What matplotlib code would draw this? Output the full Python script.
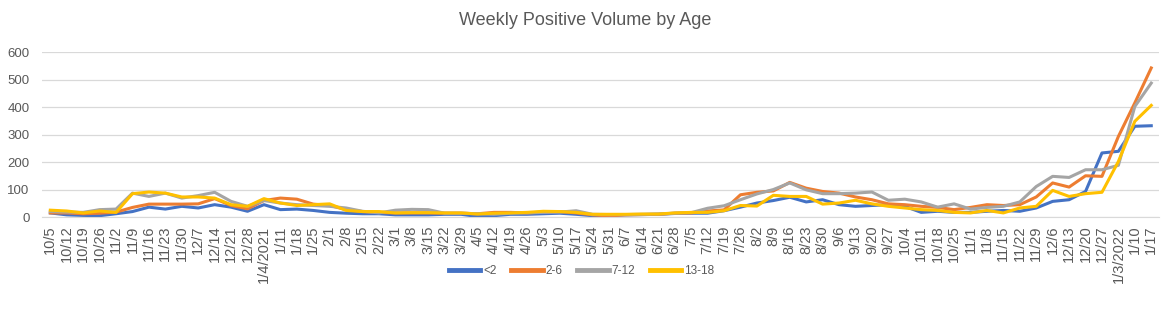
"""Weekly positive volume by age group (Excel-style line chart)."""
import matplotlib.pyplot as plt

weeks = [
    "10/5", "10/12", "10/19", "10/26", "11/2", "11/9", "11/16", "11/23", "11/30",
    "12/7", "12/14", "12/21", "12/28", "1/4/2021", "1/11", "1/18", "1/25", "2/1",
    "2/8", "2/15", "2/22", "3/1", "3/8", "3/15", "3/22", "3/29", "4/5", "4/12",
    "4/19", "4/26", "5/3", "5/10", "5/17", "5/24", "5/31", "6/7", "6/14", "6/21",
    "6/28", "7/5", "7/12", "7/19", "7/26", "8/2", "8/9", "8/16", "8/23", "8/30",
    "9/6", "9/13", "9/20", "9/27", "10/4", "10/11", "10/18", "10/25", "11/1",
    "11/8", "11/15", "11/22", "11/29", "12/6", "12/13", "12/20", "12/27",
    "1/3/2022", "1/10", "1/17",
]

under_2 = [15, 8, 6, 5, 12, 20, 36, 29, 39, 33, 45, 36, 21, 45, 27, 29, 24, 17,
           14, 12, 12, 8, 8, 8, 10, 10, 2, 5, 10, 10, 12, 14, 10, 5, 6, 8, 9, 10,
           13, 14, 14, 23, 36, 51, 60, 72, 55, 63, 45, 39, 42, 45, 39, 17, 21, 17,
           17, 21, 24, 21, 33, 57, 63, 93, 233, 239, 330, 332]
age_2_6 = [15, 15, 12, 14, 18, 35, 47, 47, 47, 48, 67, 42, 30, 60, 69, 65, 47, 42,
           27, 20, 17, 15, 15, 15, 14, 14, 12, 17, 17, 15, 18, 20, 15, 8, 4, 8, 9,
           10, 14, 15, 22, 26, 81, 90, 95, 126, 105, 93, 87, 73, 63, 48, 45, 39,
           35, 27, 35, 45, 42, 45, 73, 124, 109, 150, 148, 293, 415, 542]
age_7_12 = [20, 18, 17, 27, 29, 87, 75, 87, 69, 78, 90, 57, 39, 60, 51, 45, 42, 39,
            33, 21, 15, 25, 28, 27, 14, 14, 12, 10, 14, 15, 17, 18, 23, 10, 9, 9,
            10, 11, 14, 16, 32, 41, 63, 84, 100, 124, 99, 85, 85, 87, 91, 61, 65,
            55, 36, 48, 29, 35, 39, 55, 111, 148, 144, 172, 172, 188, 402, 487]
age_13_18 = [25, 22, 15, 22, 17, 85, 91, 87, 73, 73, 69, 45, 39, 67, 51, 42, 45, 48,
             24, 20, 20, 15, 16, 16, 15, 15, 11, 14, 15, 17, 21, 20, 17, 10, 10, 10,
             11, 11, 15, 17, 17, 23, 42, 40, 79, 75, 75, 47, 51, 61, 48, 39, 33, 27,
             24, 17, 15, 24, 15, 33, 39, 97, 75, 85, 90, 202, 348, 406]

series = [
    ("<2", under_2, "#4472C4"),
    ("2-6", age_2_6, "#ED7D31"),
    ("7-12", age_7_12, "#A5A5A5"),
    ("13-18", age_13_18, "#FFC000"),
]

plt.rcParams["font.family"] = ["Liberation Sans", "DejaVu Sans"]
text_color = "#595959"

fig = plt.figure(figsize=(11.7, 3.23), dpi=100)
ax = fig.add_axes([0.036, 0.328, 0.955, 0.511])

x = range(len(weeks))
for name, vals, color in series:
    ax.plot(x, vals, color=color, linewidth=2.2, label=name, solid_joinstyle="round")

ax.set_xlim(-0.5, len(weeks) - 0.5)
ax.set_ylim(0, 600)
ax.set_yticks(range(0, 601, 100))
ax.set_xticks(list(x))
ax.set_xticklabels(weeks, rotation=90, fontsize=10.5)
ax.tick_params(axis="both", length=0, colors=text_color)
ax.tick_params(axis="y", labelsize=9.5, pad=9)
ax.tick_params(axis="x", pad=6)
ax.grid(axis="y", color="#d9d9d9", linewidth=0.9)
ax.set_axisbelow(True)
for side in ["top", "right", "left"]:
    ax.spines[side].set_visible(False)
ax.spines["bottom"].set_color("#d9d9d9")

fig.text(0.5, 0.935, "Weekly Positive Volume by Age", ha="center", va="center",
         fontsize=13, color=text_color)

leg = fig.legend(loc="center", bbox_to_anchor=(0.497, 0.16), ncol=4, frameon=False,
                 fontsize=8.5, labelcolor=text_color, handlelength=2.7,
                 columnspacing=1.2, handletextpad=0.25)
for line in leg.get_lines():
    line.set_linewidth(3.5)

plt.savefig("out.png", dpi=100)
plt.close()
